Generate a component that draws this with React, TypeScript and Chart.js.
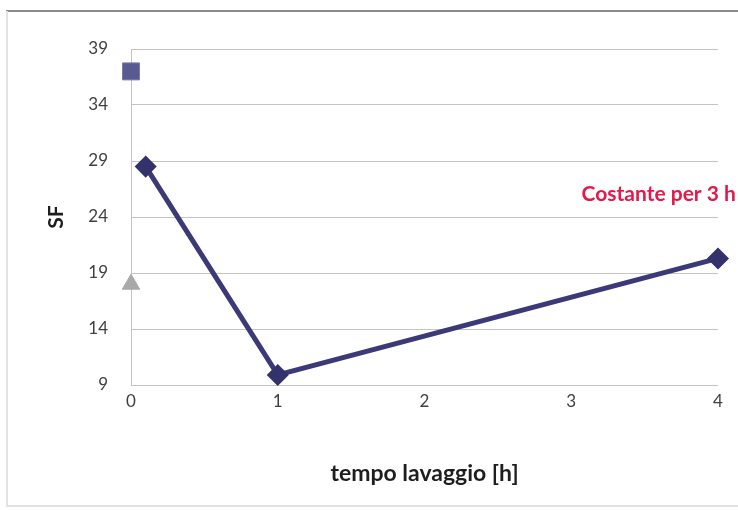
import React, { useEffect, useRef } from "react";
import { Chart, registerables } from "chart.js";

Chart.register(...registerables);

// ---- data ----
const mainX = [0.1, 1, 4];
const mainY = [28.5, 9.9, 20.3];
const squareX = [0];
const squareY = [37];
const triangleX = [0];
const triangleY = [18];
const yTicks = [9, 14, 19, 24, 29, 34, 39];
const xTicks = [0, 1, 2, 3, 4];
const noteText = "Costante per 3 h";
const noteX = 3.07;
const noteY = 26;
const xTitle = "tempo lavaggio [h]";
const yTitle = "SF";

const FONT = "Lato, 'Open Sans', sans-serif";

const framePlugin = {
  id: "frame",
  beforeDraw(chart: any) {
    const ctx = chart.ctx;
    ctx.save();
    ctx.fillStyle = "#ffffff";
    ctx.fillRect(0, 0, chart.width, chart.height);
    ctx.strokeStyle = "#8a8a8a";
    ctx.lineWidth = 2;
    ctx.beginPath();
    ctx.moveTo(6, 11);
    ctx.lineTo(chart.width, 11);
    ctx.stroke();
    ctx.strokeStyle = "#e2e2e2";
    ctx.lineWidth = 2;
    ctx.beginPath();
    ctx.moveTo(7, 11);
    ctx.lineTo(7, 506);
    ctx.lineTo(chart.width, 506);
    ctx.stroke();
    ctx.restore();
  },
  afterDatasetsDraw(chart: any) {
    const ctx = chart.ctx;
    const xs = chart.scales.x;
    const ys = chart.scales.y;
    ctx.save();
    ctx.fillStyle = "#e8174a";
    ctx.font = `bold 21px ${FONT}`;
    ctx.textAlign = "left";
    ctx.textBaseline = "middle";
    ctx.fillText(noteText, xs.getPixelForValue(noteX), ys.getPixelForValue(noteY));
    ctx.restore();
  },
};

export default function App() {
  const ref = useRef<HTMLCanvasElement | null>(null);

  useEffect(() => {
    document.body.style.margin = "0";
    const canvas = ref.current!;
    const chart = new Chart(canvas, {
      type: "scatter",
      data: {
        datasets: [
          {
            label: "main",
            data: mainX.map((x, i) => ({ x, y: mainY[i] })),
            showLine: true,
            borderColor: "#3c3978",
            backgroundColor: "#34326c",
            borderWidth: 5,
            pointStyle: "rectRot",
            pointRadius: 7.5,
            pointBorderColor: "#34326c",
            pointBackgroundColor: "#34326c",
            clip: false,
          } as any,
          {
            label: "square",
            data: squareX.map((x, i) => ({ x, y: squareY[i] })),
            pointStyle: "rect",
            pointRadius: 12,
            pointBackgroundColor: "#5a5a92",
            pointBorderColor: "#7a7aaa",
            pointBorderWidth: 1,
            clip: false,
          } as any,
          {
            label: "triangle",
            data: triangleX.map((x, i) => ({ x, y: triangleY[i] })),
            pointStyle: "triangle",
            pointRadius: 10,
            pointBackgroundColor: "#a9a9a9",
            pointBorderColor: "#a9a9a9",
            pointBorderWidth: 1,
            clip: false,
          } as any,
        ],
      },
      options: {
        animation: false,
        responsive: false,
        maintainAspectRatio: false,
        layout: { padding: { left: 0, right: 20, top: 49, bottom: 20 } },
        plugins: {
          legend: { display: false },
          tooltip: { enabled: false },
        },
        scales: {
          x: {
            type: "linear",
            min: 0,
            max: 4,
            afterBuildTicks: (s: any) => {
              s.ticks = xTicks.map((v) => ({ value: v }));
            },
            afterFit: (s: any) => {
              s.height = 105;
            },
            grid: { display: false, drawTicks: false },
            border: { display: false },
            ticks: {
              padding: 6,
              color: "#404040",
              font: { family: FONT, size: 17 },
            },
            title: {
              display: true,
              text: xTitle,
              color: "#1e1e1e",
              font: { family: FONT, size: 23, weight: "bold" },
              padding: { top: 0, bottom: 3 },
            },
          },
          y: {
            type: "linear",
            min: 9,
            max: 39,
            afterBuildTicks: (s: any) => {
              s.ticks = yTicks.map((v) => ({ value: v }));
            },
            afterFit: (s: any) => {
              s.width = 131;
            },
            grid: { color: "#c4c4c4", lineWidth: 1, drawTicks: false },
            border: { display: true, color: "#c4c4c4", width: 1 },
            ticks: {
              padding: 23,
              color: "#404040",
              font: { family: FONT, size: 17 },
            },
            title: {
              display: true,
              text: yTitle,
              color: "#1e1e1e",
              font: { family: FONT, size: 21, weight: "bold" },
              padding: { top: 44, bottom: 0 },
            },
          },
        },
      },
      plugins: [framePlugin],
    });
    return () => chart.destroy();
  }, []);

  return (
    <div style={{ position: "fixed", left: 0, top: 0, width: 738, height: 510, background: "#fff" }}>
      <canvas ref={ref} width={738} height={510} style={{ display: "block", width: 738, height: 510 }} />
    </div>
  );
}
